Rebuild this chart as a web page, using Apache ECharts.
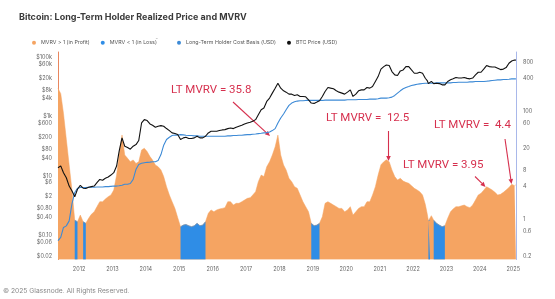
<!DOCTYPE html>
<html>
<head>
<meta charset="utf-8">
<script src="https://cdn.jsdelivr.net/npm/echarts@6/dist/echarts.min.js"></script>
<style>
html, body { margin: 0; padding: 0; background: #fff; }
#chart { width: 555px; height: 299px; }
</style>
</head>
<body>
<div id="chart"></div>
<script>
// monthly samples (extra points around the mid-2022 dip)
const dates = [
  '2011-05-16','2011-06-15','2011-07-15','2011-08-15','2011-09-15','2011-10-15','2011-11-15','2011-12-15',
  '2012-01-15','2012-02-15','2012-03-15','2012-04-15','2012-05-15','2012-06-15','2012-07-15','2012-08-15','2012-09-15','2012-10-15','2012-11-15','2012-12-15',
  '2013-01-15','2013-02-15','2013-03-15','2013-04-15','2013-05-15','2013-06-15','2013-07-15','2013-08-15','2013-09-15','2013-10-15','2013-11-15','2013-12-15',
  '2014-01-15','2014-02-15','2014-03-15','2014-04-15','2014-05-15','2014-06-15','2014-07-15','2014-08-15','2014-09-15','2014-10-15','2014-11-15','2014-12-15',
  '2015-01-15','2015-02-15','2015-03-15','2015-04-15','2015-05-15','2015-06-15','2015-07-15','2015-08-15','2015-09-15','2015-10-15','2015-11-15','2015-12-15',
  '2016-01-15','2016-02-15','2016-03-15','2016-04-15','2016-05-15','2016-06-15','2016-07-15','2016-08-15','2016-09-15','2016-10-15','2016-11-15','2016-12-15',
  '2017-01-15','2017-02-15','2017-03-15','2017-04-15','2017-05-15','2017-06-15','2017-07-15','2017-08-15','2017-09-15','2017-10-15','2017-11-15','2017-12-15',
  '2018-01-15','2018-02-15','2018-03-15','2018-04-15','2018-05-15','2018-06-15','2018-07-15','2018-08-15','2018-09-15','2018-10-15','2018-11-15','2018-12-15',
  '2019-01-15','2019-02-15','2019-03-15','2019-04-15','2019-05-15','2019-06-15','2019-07-15','2019-08-15','2019-09-15','2019-10-15','2019-11-15','2019-12-15',
  '2020-01-15','2020-02-15','2020-03-15','2020-04-15','2020-05-15','2020-06-15','2020-07-15','2020-08-15','2020-09-15','2020-10-15','2020-11-15','2020-12-15',
  '2021-01-15','2021-02-15','2021-03-15','2021-04-15','2021-05-15','2021-06-15','2021-07-15','2021-08-15','2021-09-15','2021-10-15','2021-11-15','2021-12-15',
  '2022-01-15','2022-02-15','2022-03-15','2022-04-15','2022-05-15','2022-06-05','2022-06-18','2022-07-06','2022-07-20','2022-08-15','2022-09-15','2022-10-15','2022-11-15','2022-12-15',
  '2023-01-15','2023-02-15','2023-03-15','2023-04-15','2023-05-15','2023-06-15','2023-07-15','2023-08-15','2023-09-15','2023-10-15','2023-11-15','2023-12-15',
  '2024-01-15','2024-02-15','2024-03-15','2024-04-15','2024-05-15','2024-06-15','2024-07-15','2024-08-15','2024-09-15','2024-10-15','2024-11-15','2024-12-15',
  '2025-01-15','2025-01-30'
];

const mvrv = [
  263, 210, 90, 30, 10, 3.5, 0.95, 0.89,
  1.18, 0.89, 0.83, 1.03, 1.22, 1.36, 1.69, 2.09, 2.09, 2.34, 2.59, 2.78,
  3.44, 6.5, 15.3, 36, 15.3, 13.3, 11.5, 12.4, 10.7, 11.5, 19, 20.4,
  17.7, 14.3, 12.4, 10, 9.3, 8.1, 6.1, 3.97, 2.78, 2.09, 1.57, 1.06,
  0.72, 0.77, 0.79, 0.75, 0.72, 0.75, 0.83, 0.75, 0.77, 0.89, 1.27, 1.47,
  1.36, 1.47, 1.53, 1.57, 1.62, 2.09, 2.09, 1.81, 1.95, 1.95, 2.09, 2.24,
  2.41, 2.48, 2.78, 3.2, 4.91, 6.5, 6.1, 9.3, 11.5, 15.3, 21.8, 35.8,
  15.3, 10, 8.1, 5.66, 4.91, 3.97, 3.69, 2.78, 2.09, 1.69, 1.36, 0.83,
  0.75, 0.77, 0.83, 1.1, 1.95, 2.09, 1.95, 1.81, 1.69, 1.57, 1.57, 1.36,
  1.47, 1.69, 1.18, 1.36, 1.57, 1.69, 1.69, 2.09, 2.09, 2.78, 3.97, 6.5,
  10.1, 11.5, 12.5, 11.5, 8.1, 6.1, 5.27, 5.66, 5.04, 4.77, 4.57, 4.14,
  3.69, 3.44, 3.2, 2.78, 1.87, 1.25, 0.93, 0.95, 1.15, 0.95, 0.83, 0.77, 0.72, 0.75,
  1.03, 1.36, 1.53, 1.69, 1.69, 1.75, 1.81, 1.69, 1.62, 1.81, 2.24, 2.78,
  2.99, 3.44, 3.95, 3.69, 3.44, 3.11, 2.78, 2.86, 3.11, 3.44, 3.83, 4.4,
  4.14, 4.3
];

const ltCostBasis = [
  0.067, 0.086, 0.186, 0.21, 0.31, 1.13, 2.8, 3.9,
  4.1, 4.1, 4.1, 4.2, 4.2, 4.2, 4.3, 4.3, 4.3, 4.4, 4.4, 4.5,
  4.6, 4.6, 4.7, 4.9, 5.3, 5.3, 5.6, 7.7, 16.8, 24.6, 27, 28,
  29, 29.5, 30.3, 30.3, 33.6, 53, 110, 170, 203, 231, 240, 240,
  249, 243, 237, 231, 231, 225, 225, 219, 219, 219, 219, 219,
  219, 219, 219, 219, 219, 225, 225, 231, 231, 237, 237, 243,
  249, 249, 256, 262, 269, 276, 284, 291, 306, 340, 396, 614,
  902, 1228, 1716, 2397, 2871, 3180, 3350, 3437, 3437, 3526, 3526, 3526,
  3526, 3526, 3526, 3526, 3617, 3617, 3617, 3617, 3617, 3617, 3617, 3617,
  3710, 3710, 3710, 3710, 3807, 3807, 3807, 3807, 3906, 3906, 3906, 4000,
  4218, 4218, 4218, 4328, 4556, 5184, 6210, 7430, 8670, 9613, 10380, 11220,
  11800, 12420, 12740, 13090, 13430, 13430, 13430, 13430, 13430, 13430, 13770, 13770, 13770, 13770,
  13770, 13770, 14130, 14130, 14490, 14490, 14490, 14490, 14870, 14870, 15270, 15270,
  15270, 15270, 15670, 16080, 16490, 16920, 17370, 17370, 17820, 17820, 18280, 18760,
  18760, 18760
];

const btcPrice = [
  19, 22, 13, 8.8, 4.6, 3.2, 2.0, 3.6,
  4.9, 3.9, 3.8, 4.2, 4.4, 4.6, 6.0, 7.7, 7.2, 8.4, 9.3, 10.8,
  13, 21.7, 69, 193, 101, 91, 80, 101, 115, 157, 614, 794,
  740, 568, 512, 440, 475, 500, 475, 398, 340, 284, 270, 250,
  170, 193, 203, 185, 185, 193, 219, 193, 193, 219, 284, 323,
  323, 323, 340, 358, 366, 396, 416, 396, 440, 475, 512, 568,
  614, 645, 698, 794, 1167, 1718, 1950, 3265, 4220, 6210, 9130, 13400,
  9130, 7430, 6700, 5740, 5740, 5200, 5470, 4800, 4800, 4680, 3700, 2870,
  2800, 3100, 3420, 4800, 7060, 9610, 9130, 8680, 7430, 6700, 6210, 5740,
  6700, 8000, 4800, 5740, 7430, 8000, 8000, 9610, 9130, 10400, 15300, 22400,
  40000, 48500, 55200, 52700, 33000, 25500, 24300, 34800, 37500, 48500, 48500, 37500,
  29000, 29000, 31300, 29000, 19700, 16500, 13000, 13200, 15500, 13000, 13400, 13000, 11800, 11800,
  15300, 17400, 18800, 20800, 20000, 20000, 20800, 19500, 18800, 20000, 25500, 31300,
  31300, 40500, 52500, 48500, 47000, 47000, 42700, 38500, 40000, 45000, 62800, 75200,
  81200, 80000
];

const yearTicks = ['2012-01-01','2013-01-01','2014-01-01','2015-01-01','2016-01-01','2017-01-01','2018-01-01',
  '2019-01-01','2020-01-01','2021-01-01','2022-01-01','2023-01-01','2024-01-01','2025-01-01'];
const priceTicks = [100000, 60000, 20000, 8000, 4000, 1000, 600, 200, 80, 40, 10, 6, 2, 0.8, 0.4, 0.1, 0.06, 0.02];
const priceTickLabels = ['$100k', '$60k', '$20k', '$8k', '$4k', '$1k', '$600', '$200', '$80', '$40',
  '$10', '$6', '$2', '$0.80', '$0.40', '$0.10', '$0.06', '$0.02'];
const mvrvTicks = [800, 400, 100, 60, 20, 8, 4, 1, 0.6, 0.2];
const mvrvTickLabels = ['800', '400', '100', '60', '20', '8', '4', '1', '0.6', '0.2'];

const ORANGE = '#f5a462';
const LOSS_BLUE = '#2f8de6';
const LINE_BLUE = '#3d8ad6';
const RED = '#d6304e';
const FONT = 'Inter, Roboto, sans-serif';

const pickLabel = (ticks, labels) => v => {
    let best = 0;
    ticks.forEach((t, i) => {
        if (Math.abs(Math.log10(t / v)) < Math.abs(Math.log10(ticks[best] / v))) best = i;
    });
    return labels[best];
};

// arrow = line + small filled head, in pixels
const arrow = (x1, y1, x2, y2) => {
    const a = Math.atan2(y2 - y1, x2 - x1);
    const h = 5, w = 2.3;
    const bx = x2 - h * Math.cos(a), by = y2 - h * Math.sin(a);
    return [
        { type: 'line', shape: { x1, y1, x2: bx, y2: by }, style: { stroke: RED, lineWidth: 1.1 } },
        { type: 'polygon', shape: { points: [[x2, y2], [bx + w * Math.sin(a), by - w * Math.cos(a)], [bx - w * Math.sin(a), by + w * Math.cos(a)]] }, style: { fill: RED } }
    ];
};

const notes = [
    { text: 'LT MVRV = 35.8', x: 171, y: 90, from: [233, 102], to: [270, 136] },
    { text: 'LT MVRV =  12.5', x: 326, y: 118, from: [388.5, 131], to: [388.5, 161] },
    { text: 'LT MVRV =  4.4', x: 434, y: 125, from: [505, 139], to: [511.5, 184] },
    { text: 'LT MVRV = 3.95', x: 403, y: 165, from: [475, 176.5], to: [485.5, 187] }
];

const graphics = [
    { type: 'text', left: 3, top: 287, style: { text: '\u00a9 2025 Glassnode. All Rights Reserved.', fill: '#888', font: '6.7px ' + FONT } },
    { type: 'text', left: 155.5, top: 35, style: { text: '-', fill: '#999', font: '5.5px ' + FONT } }
];
notes.forEach(n => {
    graphics.push({ type: 'text', x: n.x, y: n.y, style: { text: n.text, fill: RED, font: '11.5px Roboto', verticalAlign: 'middle' } });
    graphics.push(...arrow(n.from[0], n.from[1], n.to[0], n.to[1]));
});

const chart = echarts.init(document.getElementById('chart'));

const legendBase = {
    top: 35.3,
    icon: 'circle',
    itemWidth: 4,
    itemHeight: 4,
    itemGap: 11,
    textStyle: { fontSize: 5.3, color: '#555', fontFamily: FONT }
};

chart.setOption({
    animation: false,
    backgroundColor: '#fff',
    title: {
        text: 'Bitcoin: Long-Term Holder Realized Price and MVRV',
        left: 14,
        top: 8,
        textStyle: { fontSize: 9, fontWeight: 'bold', color: '#3a3a3a', fontFamily: FONT }
    },
    legend: [
        Object.assign({ left: 27, data: ['MVRV > 1 (in Profit)', 'MVRV < 1 (in Loss)'] }, legendBase),
        Object.assign({ left: 172, data: ['Long-Term Holder Cost Basis (USD)', 'BTC Price (USD)'] }, legendBase)
    ],
    grid: { left: 58, right: 39, top: 52, bottom: 39.5 },
    xAxis: {
        type: 'time',
        min: '2011-05-16',
        max: '2025-01-31',
        axisLine: { show: false },
        axisTick: { show: false },
        splitLine: { show: false },
        axisLabel: {
            customValues: yearTicks,
            formatter: '{yyyy}',
            fontSize: 5.5,
            color: '#666',
            margin: 7,
            fontFamily: FONT
        }
    },
    yAxis: [
        {
            type: 'log',
            logBase: 10,
            min: 0.01549,
            max: 150660,
            position: 'left',
            axisLine: { show: true, lineStyle: { color: '#e9875f', width: 1 } },
            axisTick: { show: false },
            splitLine: { show: false },
            axisLabel: {
                customValues: priceTicks,
                formatter: pickLabel(priceTicks, priceTickLabels),
                fontSize: 5.5,
                color: '#666',
                margin: 6,
                fontFamily: FONT
            }
        },
        {
            type: 'log',
            logBase: 10,
            min: 0.1774,
            max: 1241,
            position: 'right',
            axisLine: { show: true, lineStyle: { color: '#a9b8ea', width: 1 } },
            axisTick: { show: false },
            splitLine: { show: false },
            axisLabel: {
                customValues: mvrvTicks,
                formatter: pickLabel(mvrvTicks, mvrvTickLabels),
                fontSize: 5.5,
                color: '#666',
                margin: 7,
                fontFamily: FONT
            }
        }
    ],
    series: [
        {
            name: 'MVRV > 1 (in Profit)',
            type: 'line',
            yAxisIndex: 1,
            showSymbol: false,
            itemStyle: { color: ORANGE },
            lineStyle: { color: ORANGE, width: 0.5 },
            areaStyle: { color: ORANGE, opacity: 1, origin: 'start' },
            data: dates.map((d, i) => [d, mvrv[i]])
        },
        {
            name: 'MVRV < 1 (in Loss)',
            type: 'line',
            yAxisIndex: 1,
            showSymbol: false,
            itemStyle: { color: LOSS_BLUE },
            lineStyle: { color: LOSS_BLUE, width: 0.5 },
            areaStyle: { color: LOSS_BLUE, opacity: 1, origin: 'start' },
            data: dates.map((d, i) => [d, mvrv[i] < 1 ? mvrv[i] : '-'])
        },
        {
            name: 'Long-Term Holder Cost Basis (USD)',
            type: 'line',
            yAxisIndex: 0,
            showSymbol: false,
            itemStyle: { color: LINE_BLUE },
            lineStyle: { color: LINE_BLUE, width: 1.1 },
            data: dates.map((d, i) => [d, ltCostBasis[i]])
        },
        {
            name: 'BTC Price (USD)',
            type: 'line',
            yAxisIndex: 0,
            showSymbol: false,
            itemStyle: { color: '#111' },
            lineStyle: { color: '#111', width: 1.1 },
            data: dates.map((d, i) => [d, btcPrice[i]])
        }
    ],
    graphic: graphics
});
</script>
</body>
</html>
